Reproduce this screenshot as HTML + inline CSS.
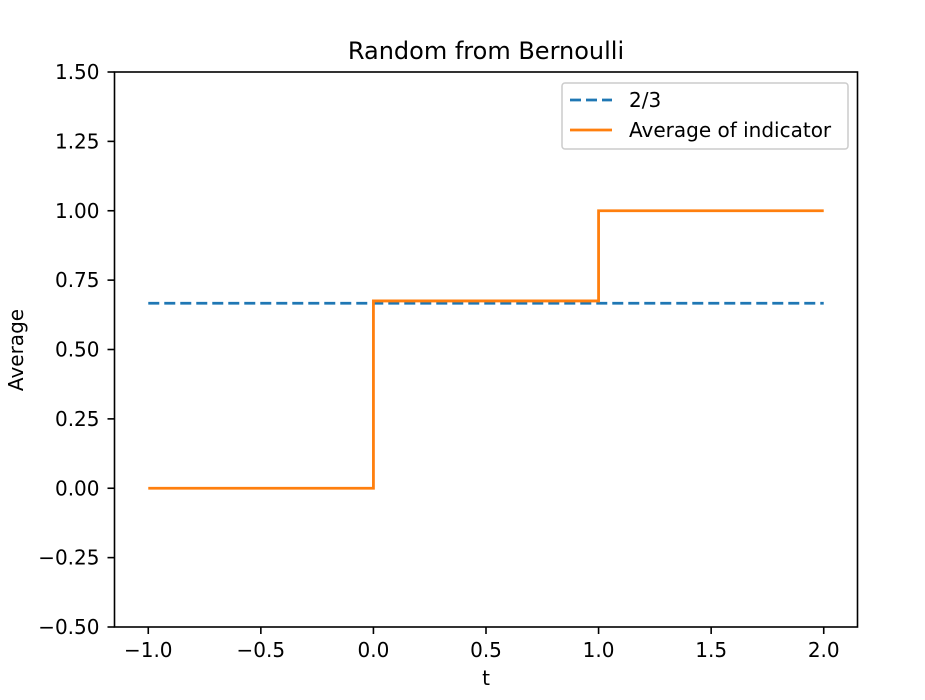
<!DOCTYPE html>
<html><head><meta charset="utf-8"><style>
body{margin:0;background:#fff}
svg{display:block;font-family:"DejaVu Sans","Liberation Sans",sans-serif}
svg text{font-family:"DejaVu Sans","Liberation Sans",sans-serif}
</style></head><body>
<svg id="chart" width="925" height="700" viewBox="0 0 925 700" xmlns="http://www.w3.org/2000/svg">
<rect width="925" height="700" fill="#fff"/>
<g id="plot"></g>
</svg>
<script>
const xTicks=[-1.0,-0.5,0.0,0.5,1.0,1.5,2.0];
const xTickLabels=["−1.0","−0.5","0.0","0.5","1.0","1.5","2.0"];
const yTicks=[-0.5,-0.25,0,0.25,0.5,0.75,1.0,1.25,1.5];
const yTickLabels=["−0.50","−0.25","0.00","0.25","0.50","0.75","1.00","1.25","1.50"];
const refX=[-1,2];
const refY=[2/3,2/3];
const stepX=[-1,0,0,1,1,2];
const stepY=[0,0,0.675,0.675,1,1];
const L=114.5,R=857.5,T=72,B=627;
const xmin=-1.15,xmax=2.15,ymin=-0.5,ymax=1.5;
const sx=v=>L+(v-xmin)/(xmax-xmin)*(R-L);
const sy=v=>B-(v-ymin)/(ymax-ymin)*(B-T);
const g=document.getElementById('plot');
const NS='http://www.w3.org/2000/svg';
function mk(tag,attrs,parent){const e=document.createElementNS(NS,tag);for(const k in attrs)e.setAttribute(k,attrs[k]);(parent||g).appendChild(e);return e;}
xTicks.forEach((v,i)=>{
 const t=mk('line',{x1:sx(v),x2:sx(v),y1:B,y2:B+7,stroke:'#000','stroke-width':1.6});
 
 
 const l=mk('text',{x:sx(v),y:657,'text-anchor':'middle','font-size':20});
 l.textContent=xTickLabels[i];
 
 
});
yTicks.forEach((v,i)=>{
 const t=mk('line',{x1:L-7,x2:L,y1:sy(v),y2:sy(v),stroke:'#000','stroke-width':1.6});
 
 
 const l=mk('text',{x:L-15,y:sy(v)+7,'text-anchor':'end','font-size':20});
 l.textContent=yTickLabels[i];
 
 
});
const ref=mk('polyline',{points:refX.map((x,i)=>sx(x)+','+sy(refY[i])).join(' '),fill:'none',stroke:'#1f77b4','stroke-width':2.8,'stroke-dasharray':'11,5'});


const st=mk('polyline',{points:stepX.map((x,i)=>sx(x)+','+sy(stepY[i])).join(' '),fill:'none',stroke:'#ff7f0e','stroke-width':2.8});


const frame=mk('rect',{x:L,y:T,width:R-L,height:B-T,fill:'none',stroke:'#000','stroke-width':1.6});


</script>
<svg style="position:absolute;left:0;top:0" width="925" height="700">
<text x="486" y="59" text-anchor="middle" font-size="24">Random from Bernoulli</text>
<text x="486" y="685" text-anchor="middle" font-size="20">t</text>
<text transform="translate(23,350) rotate(-90)" text-anchor="middle" font-size="20">Average</text>
<g>
<rect x="562" y="83" width="286" height="66" rx="3" fill="#fff" fill-opacity="0.8" stroke="#ccc" stroke-width="1.5"/>
<line x1="570" x2="612" y1="100" y2="100" stroke="#1f77b4" stroke-width="2.8" stroke-dasharray="11,5"/>
<text x="629" y="107" font-size="20">2/3</text>
<line x1="570" x2="612" y1="130" y2="130" stroke="#ff7f0e" stroke-width="2.8"/>
<text x="629" y="137" font-size="20">Average of indicator</text>
</g>
</svg>
</body></html>
